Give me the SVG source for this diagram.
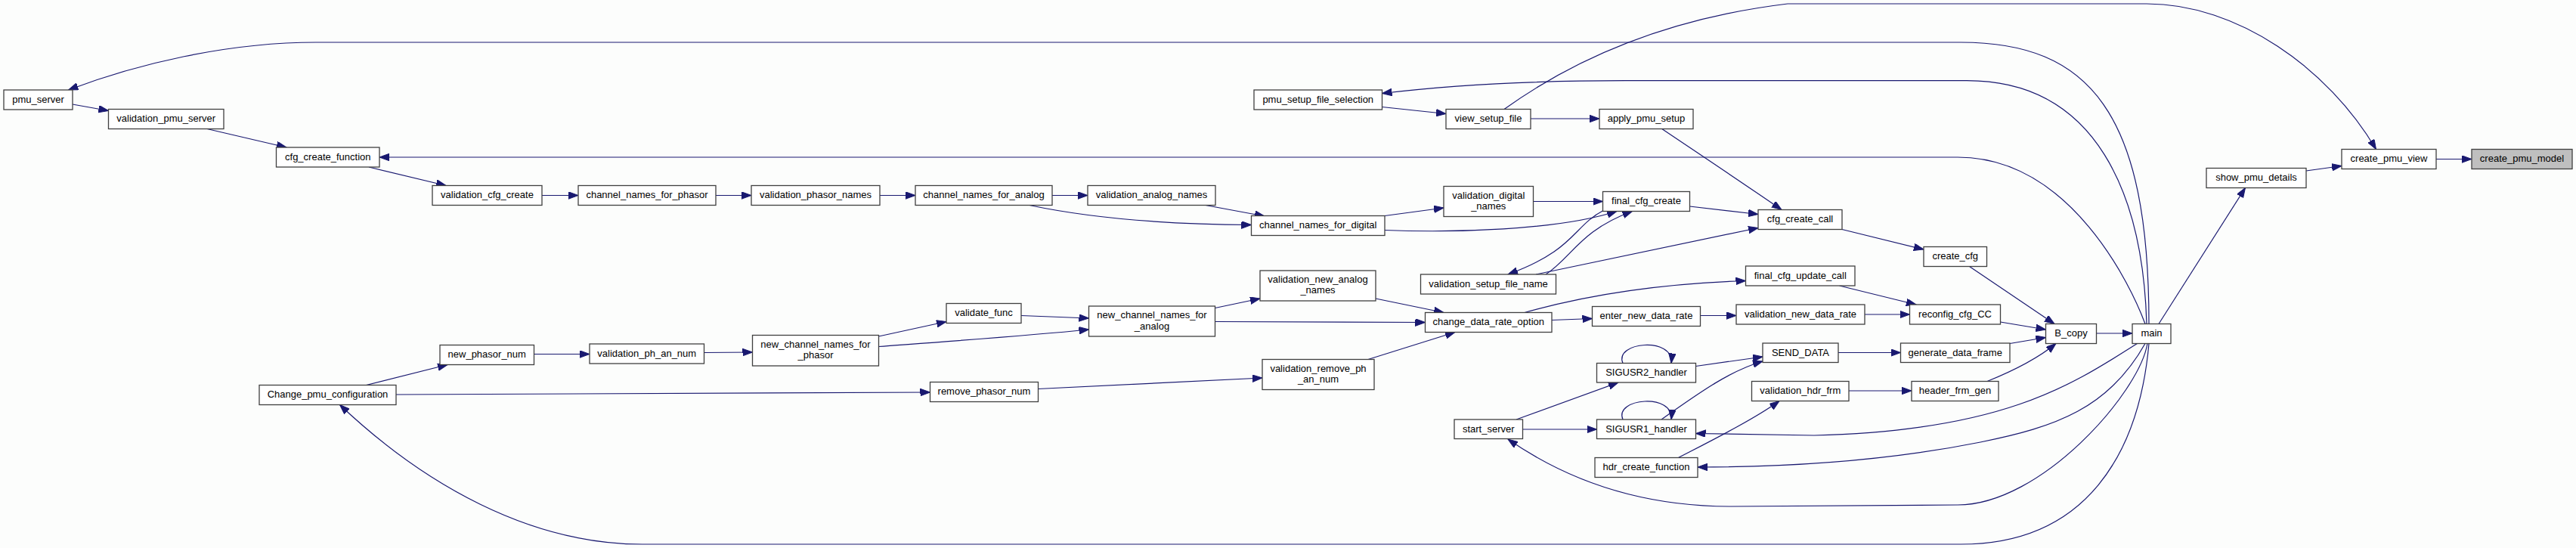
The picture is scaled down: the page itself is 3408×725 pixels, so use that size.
<svg xmlns="http://www.w3.org/2000/svg" width="3408" height="725" viewBox="0 0 3408 725">
<style>
.nd rect{fill:#ffffff;stroke:#404040;stroke-width:1.3}
.nd.hl rect{fill:#bfbfbf}
.nd text{font-family:"Liberation Sans",Arial,Helvetica,sans-serif;font-size:13px;fill:#000000;text-anchor:middle}
#edges path{fill:none;stroke:#191970;stroke-width:1.2;marker-end:url(#ah)}
</style>
<defs>
<marker id="ah" markerUnits="userSpaceOnUse" markerWidth="14" markerHeight="10" refX="13" refY="4.75" orient="auto">
<path d="M0,0 L13,4.75 L0,9.5 z" fill="#191970" stroke="#191970" stroke-width="1"/>
</marker>
</defs>
<rect x="0" y="0" width="3408" height="725" fill="#fcfdfc"/>
<g id="edges">
<path d="M3223,210.5 L3270,210.5"/>
<path d="M3051,226 L3098,219.5"/>
<path d="M1990,144.5 C2080,80 2200,25 2365,5 L2840,5 C2960,5 3080,90 3143.5,197.5"/>
<path d="M2856,428.5 L2970.5,248.5"/>
<path d="M2773.5,441 L2821,441"/>
<path d="M2605.5,352.5 L2718,428.5"/>
<path d="M2646.5,426 L2706.5,436"/>
<path d="M2659,454.5 L2706.5,446.5"/>
<path d="M2629,504.5 C2660,492 2695,475 2720,454.5"/>
<path d="M2437,303.5 L2545,330"/>
<path d="M2198,170 C2250,205 2310,245 2357,277.5"/>
<path d="M2235.5,273 L2326,283.5"/>
<path d="M2032,363 L2326,301.5"/>
<path d="M2122,278 C2080,300 2085,330 1995,363"/>
<path d="M2045,363 C2080,340 2090,305 2159.5,279.5"/>
<path d="M2028.5,266.5 L2120.5,266.5"/>
<path d="M1832,285.5 L1910,275"/>
<path d="M1832,304.5 C1920,308 2060,305 2139,279.5"/>
<path d="M1362,271.5 C1450,290 1560,297 1655.5,297.5"/>
<path d="M1595,271.5 L1673,286"/>
<path d="M1164,258.5 L1211,258.5"/>
<path d="M947,258.5 L994,258.5"/>
<path d="M717,258.5 L765,258.5"/>
<path d="M1392,258.5 L1439,258.5"/>
<path d="M488,221 L590,245.5"/>
<path d="M274,170.5 L379,195"/>
<path d="M96,138 L143.5,146.5"/>
<path d="M1828.5,141.5 L1913,150.5"/>
<path d="M2025,157 L2116,157"/>
<path d="M2843,428.5 C2843,150 2765,56 2594,56 L418,56 C300,56 180,85 90.5,119"/>
<path d="M2840,428.5 C2835,260 2775,106.7 2602,106.7 L2150,106.7 C2000,106.7 1900,115 1828.5,123.5"/>
<path d="M2838,428.5 C2820,380 2740,208 2590,208 L502,208"/>
<path d="M2827.5,454.5 C2740,510 2650,570 2400,576 L2243.5,573.5"/>
<path d="M2838,454.5 C2790,540 2720,565 2620,585 C2520,605 2400,618 2246,618"/>
<path d="M2841,454.5 C2830,520 2700,668 2590,668 L2290,670 C2180,670 2080,640 1995,581"/>
<path d="M2843,454.5 C2830,600 2760,720 2594,720 L850,720 C700,720 560,640 449.5,535.5"/>
<path d="M2243.5,484.5 L2332,472"/>
<path d="M2198,555 C2250,518 2290,490 2332,478"/>
<path d="M2220.5,605.5 C2260,585 2320,555 2354,530.5"/>
<path d="M2006,555 L2141,506"/>
<path d="M2014.5,568 L2112.5,568"/>
<path d="M2147,480.5 C2135,452 2215,445 2211,480.5"/>
<path d="M2147,555 C2135,526.5 2215,519.5 2211,555"/>
<path d="M2053,423.5 L2106.5,421.5"/>
<path d="M2249.5,417.5 L2297,417.5"/>
<path d="M2467,416 L2526.5,416"/>
<path d="M2433.5,378 L2535,403"/>
<path d="M2017,413.5 C2100,390 2200,375 2309.5,371.5"/>
<path d="M2432,466.5 L2514.5,466.5"/>
<path d="M2446,517 L2529,517"/>
<path d="M1820,395 L1910,413.5"/>
<path d="M1607.5,425.5 L1885.5,426.5"/>
<path d="M1810,475.5 L1925,439.5"/>
<path d="M1607.5,407.5 L1667,395"/>
<path d="M1351,417.5 L1440.5,421"/>
<path d="M1162.5,445 L1252,425.5"/>
<path d="M1162.5,458.5 C1250,452 1350,445 1440.5,436"/>
<path d="M1373.5,514.5 L1670,500"/>
<path d="M524,522 L1230.5,519"/>
<path d="M484.5,509.5 L592,482.5"/>
<path d="M706.5,468.5 L780,468.5"/>
<path d="M931.5,466.5 L995.5,466"/>
</g>
<g id="n_pmu_server" class="nd"><rect x="5" y="119" width="91" height="26"/><text x="50.5" y="135.5">pmu_server</text></g>
<g id="n_validation_pmu_server" class="nd"><rect x="143.5" y="144.5" width="152.5" height="26"/><text x="219.75" y="161">validation_pmu_server</text></g>
<g id="n_cfg_create_function" class="nd"><rect x="365.5" y="195" width="136.5" height="26"/><text x="433.75" y="211.5">cfg_create_function</text></g>
<g id="n_validation_cfg_create" class="nd"><rect x="572" y="245.5" width="145" height="26"/><text x="644.5" y="262">validation_cfg_create</text></g>
<g id="n_channel_names_for_phasor" class="nd"><rect x="765" y="245.5" width="182" height="26"/><text x="856" y="262">channel_names_for_phasor</text></g>
<g id="n_validation_phasor_names" class="nd"><rect x="994" y="245.5" width="170" height="26"/><text x="1079" y="262">validation_phasor_names</text></g>
<g id="n_channel_names_for_analog" class="nd"><rect x="1211" y="245.5" width="181" height="26"/><text x="1301.5" y="262">channel_names_for_analog</text></g>
<g id="n_validation_analog_names" class="nd"><rect x="1439" y="245.5" width="169" height="26"/><text x="1523.5" y="262">validation_analog_names</text></g>
<g id="n_channel_names_for_digital" class="nd"><rect x="1655.5" y="285.5" width="176.5" height="26"/><text x="1743.75" y="302">channel_names_for_digital</text></g>
<g id="n_pmu_setup_file_selection" class="nd"><rect x="1659" y="119" width="169.5" height="26"/><text x="1743.75" y="135.5">pmu_setup_file_selection</text></g>
<g id="n_view_setup_file" class="nd"><rect x="1913" y="144.5" width="112" height="26"/><text x="1969" y="161">view_setup_file</text></g>
<g id="n_apply_pmu_setup" class="nd"><rect x="2116" y="144.5" width="124" height="26"/><text x="2178" y="161">apply_pmu_setup</text></g>
<g id="n_validation_digital_names" class="nd"><rect x="1910" y="246.5" width="118.5" height="40"/><text x="1969.25" y="262.5">validation_digital</text><text x="1969.25" y="276.5">_names</text></g>
<g id="n_final_cfg_create" class="nd"><rect x="2120.5" y="253.5" width="115" height="26"/><text x="2178" y="270">final_cfg_create</text></g>
<g id="n_validation_setup_file_name" class="nd"><rect x="1879.5" y="363" width="179" height="26"/><text x="1969" y="379.5">validation_setup_file_name</text></g>
<g id="n_validation_new_analog_names" class="nd"><rect x="1667" y="358" width="153" height="40"/><text x="1743.5" y="374">validation_new_analog</text><text x="1743.5" y="388">_names</text></g>
<g id="n_cfg_create_call" class="nd"><rect x="2326" y="277.5" width="111" height="26"/><text x="2381.5" y="294">cfg_create_call</text></g>
<g id="n_create_cfg" class="nd"><rect x="2545" y="326.5" width="83.5" height="26"/><text x="2586.75" y="343">create_cfg</text></g>
<g id="n_final_cfg_update_call" class="nd"><rect x="2309.5" y="352" width="144.5" height="26"/><text x="2381.75" y="368.5">final_cfg_update_call</text></g>
<g id="n_validation_new_data_rate" class="nd"><rect x="2297" y="403" width="170" height="26"/><text x="2382" y="419.5">validation_new_data_rate</text></g>
<g id="n_reconfig_cfg_CC" class="nd"><rect x="2526.5" y="403" width="120" height="26"/><text x="2586.5" y="419.5">reconfig_cfg_CC</text></g>
<g id="n_B_copy" class="nd"><rect x="2706.5" y="428.5" width="67" height="26"/><text x="2740" y="445">B_copy</text></g>
<g id="n_main" class="nd"><rect x="2821" y="428.5" width="51" height="26"/><text x="2846.5" y="445">main</text></g>
<g id="n_SEND_DATA" class="nd"><rect x="2332" y="454" width="100" height="25.5"/><text x="2382" y="470.5">SEND_DATA</text></g>
<g id="n_generate_data_frame" class="nd"><rect x="2514.5" y="454" width="144.5" height="25.5"/><text x="2586.75" y="470.5">generate_data_frame</text></g>
<g id="n_validation_hdr_frm" class="nd"><rect x="2317.5" y="504.5" width="128.5" height="26"/><text x="2381.75" y="521">validation_hdr_frm</text></g>
<g id="n_header_frm_gen" class="nd"><rect x="2529" y="504.5" width="115" height="26"/><text x="2586.5" y="521">header_frm_gen</text></g>
<g id="n_change_data_rate_option" class="nd"><rect x="1885.5" y="413.5" width="167.5" height="26"/><text x="1969.25" y="430">change_data_rate_option</text></g>
<g id="n_enter_new_data_rate" class="nd"><rect x="2106.5" y="405.5" width="143" height="26"/><text x="2178" y="422">enter_new_data_rate</text></g>
<g id="n_validation_remove_ph_an_num" class="nd"><rect x="1670" y="475.5" width="148" height="40"/><text x="1744" y="491.5">validation_remove_ph</text><text x="1744" y="506">_an_num</text></g>
<g id="n_SIGUSR2_handler" class="nd"><rect x="2112.5" y="480.5" width="131" height="25.5"/><text x="2178" y="497">SIGUSR2_handler</text></g>
<g id="n_SIGUSR1_handler" class="nd"><rect x="2112.5" y="555" width="131" height="25.5"/><text x="2178" y="571.5">SIGUSR1_handler</text></g>
<g id="n_start_server" class="nd"><rect x="1924" y="555" width="90.5" height="25.5"/><text x="1969.25" y="571.5">start_server</text></g>
<g id="n_hdr_create_function" class="nd"><rect x="2110" y="605.5" width="136" height="26"/><text x="2178" y="622">hdr_create_function</text></g>
<g id="n_validate_func" class="nd"><rect x="1252" y="401.5" width="99" height="26"/><text x="1301.5" y="418">validate_func</text></g>
<g id="n_new_channel_names_for_analog" class="nd"><rect x="1440.5" y="405" width="167" height="40"/><text x="1524" y="421">new_channel_names_for</text><text x="1524" y="435.5">_analog</text></g>
<g id="n_remove_phasor_num" class="nd"><rect x="1230.5" y="505.5" width="143" height="26"/><text x="1302" y="522">remove_phasor_num</text></g>
<g id="n_new_channel_names_for_phasor" class="nd"><rect x="995.5" y="443.5" width="167" height="40.5"/><text x="1079" y="459.5">new_channel_names_for</text><text x="1079" y="474">_phasor</text></g>
<g id="n_new_phasor_num" class="nd"><rect x="582" y="456.5" width="124.5" height="26"/><text x="644.25" y="473">new_phasor_num</text></g>
<g id="n_validation_ph_an_num" class="nd"><rect x="780" y="455" width="151.5" height="26"/><text x="855.75" y="471.5">validation_ph_an_num</text></g>
<g id="n_Change_pmu_configuration" class="nd"><rect x="343" y="509.5" width="181" height="26"/><text x="433.5" y="526">Change_pmu_configuration</text></g>
<g id="n_create_pmu_view" class="nd"><rect x="3098" y="197.5" width="125" height="26"/><text x="3160.5" y="214">create_pmu_view</text></g>
<g id="n_create_pmu_model" class="nd hl"><rect x="3270" y="197.5" width="133" height="26"/><text x="3336.5" y="214">create_pmu_model</text></g>
<g id="n_show_pmu_details" class="nd"><rect x="2919" y="222.5" width="132" height="26"/><text x="2985" y="239">show_pmu_details</text></g>
</svg>
